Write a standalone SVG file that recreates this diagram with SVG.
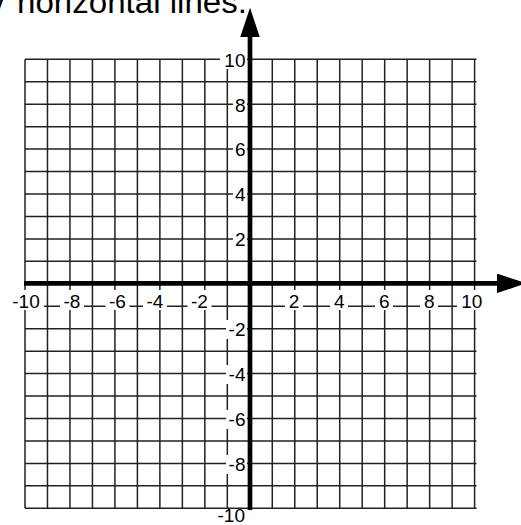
<svg xmlns="http://www.w3.org/2000/svg" width="521" height="525" viewBox="0 0 521 525">
<style>
.grid{fill:none;stroke:#222;stroke-width:1.5}
.axis{stroke:#000;stroke-width:4.7;fill:none}
.lbl{font-family:"Liberation Sans",Arial,sans-serif;font-size:19px;fill:#000}
.yl{text-anchor:end}
.xl{text-anchor:middle}
.bg{fill:#fff}
.title{font-family:"Liberation Sans",Arial,sans-serif;font-size:31px;fill:#000}
</style>
<defs>
<marker id="arr" viewBox="0 0 30 20" refX="0" refY="10" markerWidth="30" markerHeight="19.5" markerUnits="userSpaceOnUse" orient="auto">
<path d="M0,0 L30,10 L0,20 z" fill="#000"/>
</marker>
</defs>
<rect width="521" height="525" fill="#fff"/>
<g id="title">
<text class="title" x="-11" y="13.3">y</text>
<text class="title" x="17" y="13.3" textLength="230" lengthAdjust="spacingAndGlyphs">horizontal lines.</text>
</g>
<g id="grid">
<path class="grid" d="M25,59.3V508.3M47.48,59.3V508.3M69.96,59.3V508.3M92.44,59.3V508.3M114.92,59.3V508.3M137.4,59.3V508.3M159.88,59.3V508.3M182.36,59.3V508.3M204.84,59.3V508.3M227.32,59.3V508.3M272.28,59.3V508.3M294.76,59.3V508.3M317.24,59.3V508.3M339.72,59.3V508.3M362.2,59.3V508.3M384.68,59.3V508.3M407.16,59.3V508.3M429.64,59.3V508.3M452.12,59.3V508.3M474.6,59.3V508.3"/>
<path class="grid" d="M25,59.3H476.5M25,81.75H476.5M25,104.2H476.5M25,126.65H476.5M25,149.1H476.5M25,171.55H476.5M25,194H476.5M25,216.45H476.5M25,238.9H476.5M25,261.35H476.5M25,306.25H476.5M25,328.7H476.5M25,351.15H476.5M25,373.6H476.5M25,396.05H476.5M25,418.5H476.5M25,440.95H476.5M25,463.4H476.5M25,485.85H476.5M25,508.3H476.5"/>
</g>
<g id="label-backgrounds">
<rect class="bg" x="220" y="50" width="27" height="19"/>
<rect class="bg" x="233" y="95" width="14" height="19"/>
<rect class="bg" x="233" y="140" width="14" height="19"/>
<rect class="bg" x="233" y="185" width="14" height="19"/>
<rect class="bg" x="233" y="230" width="14" height="19"/>
<rect class="bg" x="226" y="320" width="21" height="19"/>
<rect class="bg" x="226" y="365" width="21" height="19"/>
<rect class="bg" x="226" y="410" width="21" height="19"/>
<rect class="bg" x="226" y="455" width="21" height="19"/>
<rect class="bg" x="9" y="290" width="35" height="20"/>
<rect class="bg" x="60" y="290" width="24" height="20"/>
<rect class="bg" x="105.5" y="290" width="24" height="20"/>
<rect class="bg" x="143" y="290" width="24" height="20"/>
<rect class="bg" x="187.5" y="290" width="24" height="20"/>
<rect class="bg" x="285" y="290" width="18" height="20"/>
<rect class="bg" x="330" y="290" width="18" height="20"/>
<rect class="bg" x="375" y="290" width="18" height="20"/>
<rect class="bg" x="420" y="290" width="18" height="20"/>
<rect class="bg" x="457" y="290" width="29" height="20"/>
</g>
<g id="axes">
<line class="axis" x1="250" y1="510" x2="250" y2="37" marker-end="url(#arr)"/>
<line class="axis" x1="24" y1="283.3" x2="497" y2="283.3" marker-end="url(#arr)"/>
</g>
<g id="y-labels">
<text class="lbl yl" x="245.5" y="66.5">10</text>
<text class="lbl yl" x="245.5" y="111.5">8</text>
<text class="lbl yl" x="245.5" y="156">6</text>
<text class="lbl yl" x="245.5" y="201.3">4</text>
<text class="lbl yl" x="245.5" y="246">2</text>
<text class="lbl yl" x="245.5" y="335.8">-2</text>
<text class="lbl yl" x="245.5" y="380.7">-4</text>
<text class="lbl yl" x="245.5" y="425.6">-6</text>
<text class="lbl yl" x="245.5" y="470.5">-8</text>
<text class="lbl yl" x="245" y="521.5">-10</text>
</g>
<g id="x-labels">
<text class="lbl xl" x="26" y="307.5">-10</text>
<text class="lbl xl" x="72" y="307.5">-8</text>
<text class="lbl xl" x="117.5" y="307.5">-6</text>
<text class="lbl xl" x="155" y="307.5">-4</text>
<text class="lbl xl" x="199.5" y="307.5">-2</text>
<text class="lbl xl" x="294" y="307.5">2</text>
<text class="lbl xl" x="339.2" y="307.5">4</text>
<text class="lbl xl" x="384.2" y="307.5">6</text>
<text class="lbl xl" x="429.2" y="307.5">8</text>
<text class="lbl xl" x="471.7" y="307.5">10</text>
</g>
</svg>
